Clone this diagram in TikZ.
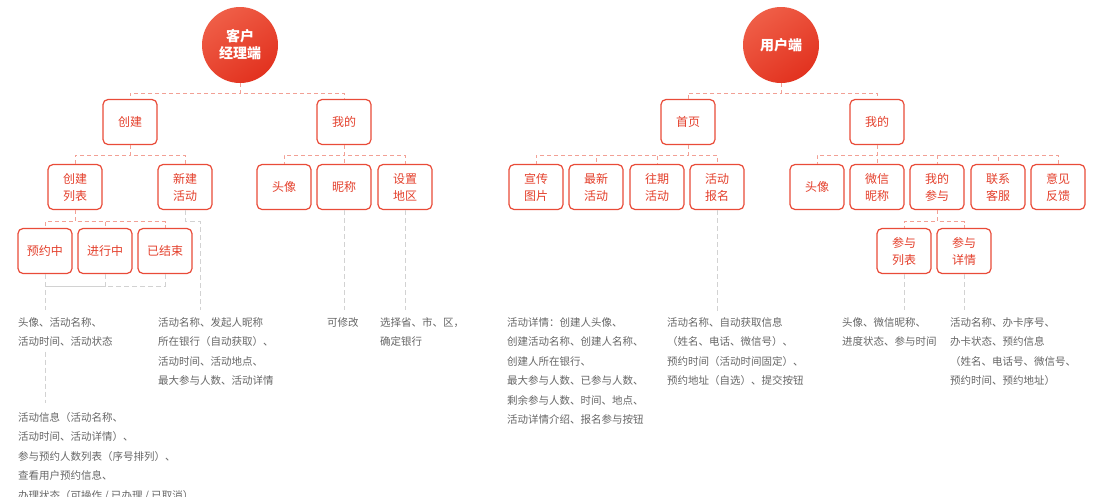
\documentclass[tikz,border=0pt]{standalone}
\usepackage{fontspec}
\setmainfont{Noto Sans CJK SC}
\usetikzlibrary{calc}
\definecolor{boxred}{HTML}{E94B38}
\definecolor{txtred}{HTML}{E4402C}
\definecolor{pinkdash}{HTML}{F2A095}
\definecolor{graydash}{HTML}{D2D2D2}
\definecolor{graytxt}{HTML}{666666}
\definecolor{circA}{HTML}{EF5E47}
\definecolor{circB}{HTML}{E2321F}
\begin{document}
\begin{tikzpicture}[x=1pt,y=-1pt,
 box/.style={draw=boxred, line width=1.2pt, rounded corners=5pt, fill=white,
   minimum width=54pt, minimum height=45pt, inner sep=0pt, align=center,
   text=txtred, font=\fontsize{12}{17}\selectfont},
 hub/.style={circle, minimum size=76pt, inner sep=0pt, align=center,
   shading=axis, top color=circA, bottom color=circB, shading angle=35,
   text=white, font=\fontsize{14}{17}\selectfont\bfseries},
 redline/.style={draw=pinkdash, line width=1pt, dash pattern=on 4pt off 3pt},
 grayline/.style={draw=graydash, line width=1pt, dash pattern=on 5pt off 3pt},
 note/.style={anchor=north west, inner sep=0pt, align=left, text=graytxt,
   font=\fontsize{10.5}{19.5}\selectfont}]
\useasboundingbox (0,0) rectangle (1100,496);

% ---------- left tree ----------
\node[hub] (kh) at (240,45) {客户\\经理端};
\node[box] (cA) at (130,122) {创建};
\node[box] (mA) at (344,122) {我的};
\node[box] (cl) at (75,187) {创建\\列表};
\node[box] (xj) at (185,187) {新建\\活动};
\node[box] (tx) at (284,187) {头像};
\node[box] (nc) at (344,187) {昵称};
\node[box] (dq) at (405,187) {设置\\地区};
\node[box] (s1) at (45,251) {预约中};
\node[box] (s2) at (105,251) {进行中};
\node[box] (s3) at (165,251) {已结束};

\node[note] (n1) at (18,317) {头像、活动名称、\\活动时间、活动状态};
\node[note] (n2) at (158,317) {活动名称、发起人昵称\\所在银行（自动获取）、\\活动时间、活动地点、\\最大参与人数、活动详情};
\node[note] (n3) at (327,317) {可修改};
\node[note] (n4) at (380,317) {选择省、市、区，\\确定银行};
\node[note] (n5) at (18,412) {活动信息（活动名称、\\活动时间、活动详情）、\\参与预约人数列表（序号排列）、\\查看用户预约信息、\\办理状态（可操作 / 已办理 / 已取消）};

\foreach \c in {cA,mA} \draw[redline] (kh.south) -- ++(0,10) -| (\c.north);
\foreach \c in {cl,xj} \draw[redline] (cA.south) -- ++(0,10) -| (\c.north);
\foreach \c in {tx,nc,dq} \draw[redline] (mA.south) -- ++(0,10) -| (\c.north);
\foreach \c in {s1,s2,s3} \draw[redline] (cl.south) -- ++(0,11.5) -| (\c.north);

\coordinate (sj) at ($(s1.south)+(0,12)$);
\draw[grayline] (s2.south) |- (sj);
\draw[grayline] (s3.south) |- (sj);
\draw[grayline, shorten >=7pt] (s1.south) -- (n1.north -| s1.south);
\draw[grayline, shorten <=5pt, shorten >=9pt] (n1.south -| s1.south) -- (n5.north -| s1.south);
\draw[grayline, shorten >=7pt] (xj.south) -- ++(0,11) -| (n2.north -| 200,0);
\draw[grayline, shorten >=7pt] (nc.south) -- (n3.north -| nc.south);
\draw[grayline, shorten >=7pt] (dq.south) -- (n4.north -| dq.south);

% ---------- right tree ----------
\node[hub] (yh) at (781,45) {用户端};
\node[box] (hp) at (688,122) {首页};
\node[box] (mB) at (877,122) {我的};
\node[box] (xc) at (536,187) {宣传\\图片};
\node[box] (zx) at (596,187) {最新\\活动};
\node[box] (wq) at (657,187) {往期\\活动};
\node[box] (bm) at (717,187) {活动\\报名};
\node[box] (tx2) at (817,187) {头像};
\node[box] (wx) at (877,187) {微信\\昵称};
\node[box] (cy) at (937,187) {我的\\参与};
\node[box] (lx) at (998,187) {联系\\客服};
\node[box] (yj) at (1058,187) {意见\\反馈};
\node[box] (lb) at (904,251) {参与\\列表};
\node[box] (xq) at (964,251) {参与\\详情};

\node[note] (n6) at (507,317) {活动详情：创建人头像、\\创建活动名称、创建人名称、\\创建人所在银行、\\最大参与人数、已参与人数、\\剩余参与人数、时间、地点、\\活动详情介绍、报名参与按钮};
\node[note] (n7) at (667,317) {活动名称、自动获取信息\\（姓名、电话、微信号）、\\预约时间（活动时间固定）、\\预约地址（自选）、提交按钮};
\node[note] (n8) at (842,317) {头像、微信昵称、\\进度状态、参与时间};
\node[note] (n9) at (950,317) {活动名称、办卡序号、\\办卡状态、预约信息\\（姓名、电话号、微信号、\\预约时间、预约地址）};

\foreach \c in {hp,mB} \draw[redline] (yh.south) -- ++(0,10) -| (\c.north);
\foreach \c in {xc,zx,wq,bm} \draw[redline] (hp.south) -- ++(0,10) -| (\c.north);
\foreach \c in {tx2,wx,cy,lx,yj} \draw[redline] (mB.south) -- ++(0,10) -| (\c.north);
\foreach \c in {lb,xq} \draw[redline] (cy.south) -- ++(0,11.5) -| (\c.north);

\draw[grayline, shorten >=4pt] (bm.south) -- (n7.north -| bm.south);
\draw[grayline, shorten >=7pt] (lb.south) -- (n8.north -| lb.south);
\draw[grayline, shorten >=7pt] (xq.south) -- (n9.north -| xq.south);
\end{tikzpicture}
\end{document}
